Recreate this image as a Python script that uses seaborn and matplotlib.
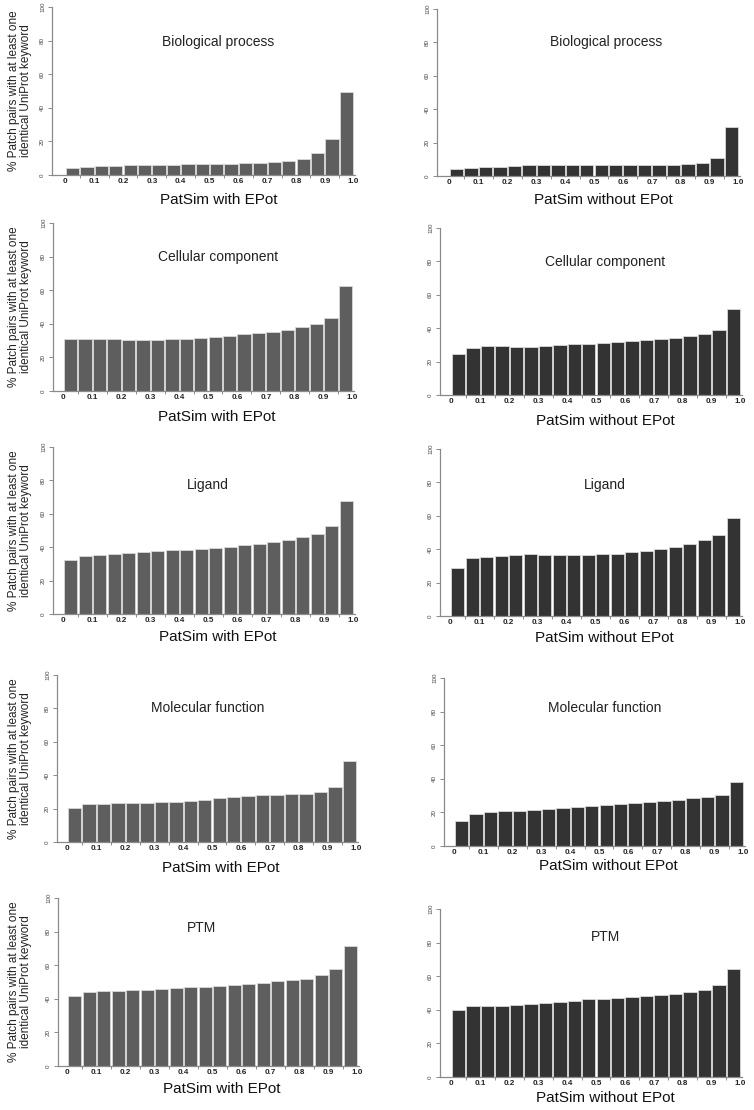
import numpy as np
import pandas as pd
import seaborn as sns
import matplotlib
matplotlib.use('Agg')
import matplotlib.pyplot as plt

# bins of PatSim score (20 bins of width 0.05)
bins = ['0.00', '0.05', '0.10', '0.15', '0.20', '0.25', '0.30', '0.35', '0.40', '0.45',
        '0.50', '0.55', '0.60', '0.65', '0.70', '0.75', '0.80', '0.85', '0.90', '0.95']
tick_labels = ['0', '0.1', '0.2', '0.3', '0.4', '0.5', '0.6', '0.7', '0.8', '0.9', '1.0']

categories = ['Biological process', 'Cellular component', 'Ligand', 'Molecular function', 'PTM']

# % patch pairs with >=1 identical UniProt keyword, PatSim with EPot
bp_with = [4.0, 5.0, 5.2, 5.4, 5.8, 6.0, 6.2, 6.2, 6.4, 6.4,
           6.6, 6.8, 7.0, 7.4, 7.8, 8.5, 9.7, 12.9, 21.5, 49.7]
cc_with = [31.2, 30.8, 31.0, 31.0, 30.6, 30.2, 30.2, 30.8, 31.2, 31.6,
           32.2, 33.0, 33.8, 34.6, 35.4, 36.6, 38.2, 39.8, 43.5, 62.6]
lig_with = [32.2, 34.8, 35.4, 36.0, 36.6, 37.4, 37.8, 38.2, 38.4, 38.8,
            39.4, 40.2, 41.2, 42.1, 43.1, 44.5, 45.9, 48.1, 52.9, 67.6]
mf_with = [20.4, 22.6, 23.0, 23.2, 23.2, 23.6, 23.8, 24.0, 24.6, 25.4,
           26.2, 27.0, 27.6, 28.0, 28.4, 28.6, 28.8, 29.8, 32.8, 48.7]
ptm_with = [41.8, 44.3, 44.5, 44.9, 45.1, 45.5, 46.1, 46.5, 46.9, 47.3,
            47.9, 48.5, 49.1, 49.7, 50.3, 50.9, 51.9, 54.1, 57.7, 71.6]

# PatSim without EPot
bp_without = [4.2, 5.0, 5.2, 5.6, 6.2, 6.4, 6.4, 6.4, 6.4, 6.3,
              6.3, 6.3, 6.3, 6.3, 6.4, 6.6, 7.0, 7.8, 10.9, 29.4]
cc_without = [24.6, 28.1, 29.1, 29.1, 28.7, 28.7, 29.1, 29.7, 30.3, 30.7,
              31.1, 31.5, 32.1, 32.7, 33.5, 34.3, 35.4, 36.8, 39.0, 51.3]
lig_without = [28.5, 34.9, 35.3, 36.1, 36.3, 36.9, 36.7, 36.3, 36.3, 36.7,
               36.9, 37.3, 38.1, 39.1, 40.3, 41.5, 42.9, 45.3, 48.6, 58.4]
mf_without = [15.0, 19.0, 20.0, 20.6, 21.0, 21.6, 22.0, 22.4, 23.0, 23.8,
              24.4, 25.2, 25.6, 26.4, 27.0, 27.6, 28.4, 29.2, 30.6, 38.2]
ptm_without = [39.8, 42.3, 42.1, 42.3, 42.9, 43.3, 44.1, 44.7, 45.5, 46.3,
               46.7, 47.3, 47.9, 48.3, 48.9, 49.5, 50.3, 51.9, 54.5, 64.0]

with_epot = [bp_with, cc_with, lig_with, mf_with, ptm_with]
without_epot = [bp_without, cc_without, lig_without, mf_without, ptm_without]

# layout in pixels: spine x, first bar left, last bar right, y of 100, y of 0, xlabel y, title x, title y
layout_left = [(52, 66, 353, 7, 175, 200, 218, 42),
               (53, 64, 352, 223, 391, 417, 218, 257),
               (53, 64, 353, 447, 614, 637, 208, 485),
               (57, 68, 356, 675, 842, 868, 208, 708),
               (58, 68, 357, 898, 1066, 1089, 202, 928)]
layout_right = [(437, 450, 738, 9, 176, 200, 606, 42),
                (440, 452, 740, 228, 395, 421, 605, 262),
                (440, 451, 740, 449, 616, 638, 605, 485),
                (444, 455, 743, 678, 846, 866, 605, 708),
                (440, 452, 740, 909, 1077, 1098, 606, 937)]

sns.set_style('white')
plt.rcParams['font.family'] = ['Liberation Sans', 'DejaVu Sans']

W, H = 754, 1110
fig = plt.figure(figsize=(W / 100, H / 100), dpi=100)

bar_w = 0.92
ylab = '% Patch pairs with at least one\nidentical UniProt keyword'


def draw_panel(values, geom, color, title, xlabel, show_ylabel):
    spine, bl, br, top, zero, xl_y, tx, ty = geom
    scale = (br - bl) / (19 + bar_w)
    x0 = -bar_w / 2 - (bl - spine) / scale
    x1 = 19 + bar_w / 2 + 2 / scale
    right = br + 2
    ax = fig.add_axes([spine / W, 1 - zero / H, (right - spine) / W, (zero - top) / H])
    df = pd.DataFrame({'bin': bins, 'pct': values})
    sns.barplot(data=df, x='bin', y='pct', color=color, saturation=1, width=bar_w,
                edgecolor='#d8d8d8', linewidth=0.6, ax=ax)
    ax.set_xlim(x0, x1)
    ax.set_ylim(0, 100)
    for s in ['top', 'right']:
        ax.spines[s].set_visible(False)
    for s in ['left', 'bottom']:
        ax.spines[s].set_color('#8a8a8a')
        ax.spines[s].set_linewidth(0.9)
    ax.set_yticks([0, 20, 40, 60, 80, 100])
    ax.set_yticklabels(['0', '20', '40', '60', '80', '100'], rotation=90, va='center',
                       fontsize=4.5, color='#444444')
    ax.tick_params(axis='y', length=3, width=0.7, color='#8a8a8a', pad=2, left=True)
    ax.set_xticks(np.arange(-0.5, 20, 2))
    ax.set_xticklabels(tick_labels, fontsize=5.8, color='#222222', fontweight='bold')
    ax.set_xticks(np.arange(0.5, 19, 2), minor=True)
    ax.tick_params(axis='x', which='major', length=0, pad=2)
    ax.tick_params(axis='x', which='minor', length=2.5, width=0.7, color='#8a8a8a', bottom=True)
    ax.set_xlabel('')
    ax.set_ylabel('')
    fig.text(tx / W, 1 - ty / H, title, ha='center', va='center', fontsize=10, color='#222222')
    fig.text((bl + br) / 2 / W + 0.012, 1 - xl_y / H, xlabel, ha='center', va='center',
             fontsize=11, color='#111111')
    if show_ylabel:
        fig.text(20 / W, 1 - (top + zero) / 2 / H, ylab, rotation=90, ha='center', va='center',
                 multialignment='center', fontsize=8.5, color='#222222', linespacing=1.1)
    return ax


for i, cat in enumerate(categories):
    draw_panel(with_epot[i], layout_left[i], '#5e5e5e', cat, 'PatSim with EPot', True)
    draw_panel(without_epot[i], layout_right[i], '#333333', cat, 'PatSim without EPot', False)

fig.savefig('out.png', dpi=100)
